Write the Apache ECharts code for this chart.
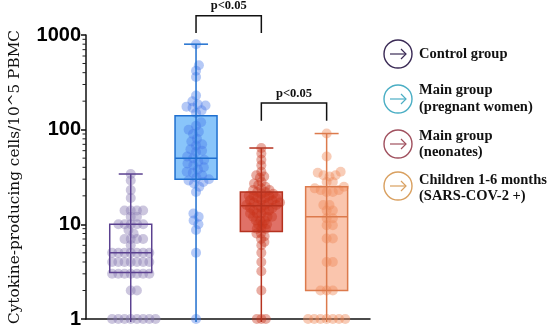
<!DOCTYPE html>
<html>
<head>
<meta charset="utf-8">
<script src="https://cdn.jsdelivr.net/npm/echarts@6/dist/echarts.min.js"></script>
<style>html,body{margin:0;padding:0;background:#fff}#c{width:550px;height:334px}</style>
</head>
<body>
<div id="c"></div>
<script>
// ---------- data ----------
const categories = ['Control group', 'Main group\n(pregnant women)', 'Main group\n(neonates)', 'Children 1-6 months\n(SARS-COV-2 +)'];
const boxMin = [1, 1, 1, 1];
const boxQ1 = [3.1, 30, 8.4, 2.0];
const boxMedian = [5, 50, 15.7, 12];
const boxQ3 = [10, 140, 22, 25];
const boxMax = [34, 800, 64, 91];

const controlValues = [1,1,1,1,1,1,1,1, 2,2, 3,3,3,3,3,3,3, 4,4,4,4,4,4,4, 5,5,5,5,5,5,5, 6, 7,7,7,7, 8.7,8, 10,10,10,10,10, 12,12, 14,14,14,14, 19, 23, 29, 34];
const pregnantValues = [800, 480, 420, 360, 230, 200, 185, 180, 175, 170, 160, 150, 120, 110, 100, 95, 90, 80, 75, 70, 68, 62, 60, 58, 52, 50, 48, 46, 44, 42, 40, 38, 36, 35, 33, 31, 30, 29, 28, 27, 25, 22, 13, 12, 11, 10, 8.7, 5, 1];
const neonateValues = [64, 56, 48, 42, 36, 33, 32, 31, 28, 27, 26, 25, 24, 23, 23, 22, 22, 21, 21, 20, 20, 20, 19, 19, 19, 18, 18, 18, 17, 17, 17, 16, 16, 16, 16, 15, 15, 15, 14, 14, 14, 13, 13, 13, 12, 12, 12, 11, 11, 11, 10, 10, 10, 9, 9, 9, 8, 8, 7.5, 7, 6.5, 6, 5, 4, 3.2, 2, 1, 1, 1];
const childrenValues = [91, 52, 36, 35, 33, 33, 32, 28, 28, 25, 24, 23, 23, 22, 22, 16, 16, 14, 14, 11.6, 11.6, 9.8, 9.8, 7.1, 7.1, 4, 4, 2, 2, 2, 1, 1, 1, 1, 1, 1, 1];
const groupValues = [controlValues, pregnantValues, neonateValues, childrenValues];

const yTicks = [1, 10, 100, 1000];
const minorTickValues = [2,3,4,5,6,7,8,9, 20,30,40,50,60,70,80,90, 200,300,400,500,600,700,800,900];

const pLabel = 'p<0.05';
const brackets = [ // [xFrom, xTo, yTop, yBottom]
  [1, 2, 1600, 1050],
  [2, 3, 191, 124]
];

// ---------- styles ----------
const X_MIN = -0.685, X_MAX = 3.664;
const PX_PER_X = 65.3, PX_PER_DEC = 94.7;
const swarmSpacing = [6.2, 6.2, 4.5, 6.2];
const strokeColors = ['#5b4190', '#1f6fcf', '#b5321f', '#dc7a4c'];
const fillColors = ['rgba(255,255,255,0)', 'rgba(40,150,245,0.55)', 'rgba(212,58,45,0.72)', 'rgba(245,150,105,0.55)'];
const dotColors = ['rgba(140,126,181,0.55)', 'rgba(70,120,232,0.5)', 'rgba(200,50,24,0.5)', 'rgba(240,138,90,0.55)'];
const legendColors = ['#3a2a55', '#4aaec4', '#a0505e', '#d9a060'];

// beeswarm layout (pixel based spacing)
function swarm(values, idx) {
  const D = swarmSpacing[idx];
  const sorted = values.slice().sort((a, b) => a - b);
  const placed = [];
  const out = [];
  sorted.forEach(v => {
    const py = Math.log10(v) * PX_PER_DEC;
    const near = placed.filter(p => Math.abs(p.y - py) < D);
    const cands = [0];
    near.forEach(p => {
      const dx = Math.sqrt(D * D - (p.y - py) * (p.y - py));
      cands.push(p.x + dx, p.x - dx);
    });
    cands.sort((a, b) => Math.abs(a) - Math.abs(b) || b - a);
    let chosen = 0;
    for (const c of cands) {
      if (near.every(p => (p.x - c) * (p.x - c) + (p.y - py) * (p.y - py) >= D * D - 0.01)) { chosen = c; break; }
    }
    placed.push({ x: chosen, y: py });
    out.push([idx + chosen / PX_PER_X, v]);
  });
  return out;
}

const boxData = categories.map((c, i) => [i, boxMin[i], boxQ1[i], boxMedian[i], boxQ3[i], boxMax[i]]);

const chart = echarts.init(document.getElementById('c'), null, { renderer: 'canvas' });

const series = [];
// box fills
series.push({
  type: 'custom', z: 1, clip: false,
  data: boxData,
  encode: { x: 0, y: [1, 2, 3, 4, 5] },
  renderItem: function (params, api) {
    const i = api.value(0);
    const q1 = api.coord([i, api.value(2)]);
    const q3 = api.coord([i, api.value(4)]);
    const hw = 21;
    return { type: 'rect', shape: { x: q1[0] - hw, y: q3[1], width: hw * 2, height: q1[1] - q3[1] }, style: { fill: fillColors[i] } };
  }
});
// dots
groupValues.forEach((vals, i) => {
  series.push({
    type: 'scatter', z: 2, symbol: 'circle', symbolSize: 10,
    data: swarm(vals, i),
    itemStyle: { color: dotColors[i] },
    silent: true
  });
});
// box strokes & whiskers
series.push({
  type: 'custom', z: 3, clip: false,
  data: boxData,
  encode: { x: 0, y: [1, 2, 3, 4, 5] },
  renderItem: function (params, api) {
    const i = api.value(0);
    const mn = api.coord([i, api.value(1)]);
    const q1 = api.coord([i, api.value(2)]);
    const md = api.coord([i, api.value(3)]);
    const q3 = api.coord([i, api.value(4)]);
    const mx = api.coord([i, api.value(5)]);
    const hw = 21, cw = 12;
    const st = { stroke: strokeColors[i], lineWidth: 1.5, fill: null };
    return {
      type: 'group', children: [
        { type: 'rect', shape: { x: q1[0] - hw, y: q3[1], width: hw * 2, height: q1[1] - q3[1] }, style: st },
        { type: 'line', shape: { x1: q1[0] - hw, y1: md[1], x2: q1[0] + hw, y2: md[1] }, style: st },
        { type: 'line', shape: { x1: mn[0], y1: mn[1] + 3, x2: mx[0], y2: mx[1] }, style: st },
        { type: 'line', shape: { x1: mx[0] - cw, y1: mx[1], x2: mx[0] + cw, y2: mx[1] }, style: st }
      ]
    };
  }
});
// minor ticks on y axis
series.push({
  type: 'custom', z: 4, clip: false,
  data: minorTickValues.map(v => [X_MIN, v]),
  renderItem: function (params, api) {
    const p = api.coord([api.value(0), api.value(1)]);
    return { type: 'line', shape: { x1: p[0] - 3.5, y1: p[1], x2: p[0], y2: p[1] }, style: { stroke: '#222', lineWidth: 1 } };
  }
});
// significance brackets
series.push({
  type: 'custom', z: 5, clip: false,
  data: brackets,
  renderItem: function (params, api) {
    const a = api.coord([api.value(0), api.value(2)]);
    const b = api.coord([api.value(1), api.value(2)]);
    const ab = api.coord([api.value(0), api.value(3)]);
    const st = { stroke: '#111', lineWidth: 1.5, fill: null };
    return {
      type: 'group', children: [
        { type: 'polyline', shape: { points: [[a[0], ab[1]], [a[0], a[1]], [b[0], b[1]], [b[0], ab[1]]] }, style: st },
        { type: 'text', style: { text: pLabel, x: (a[0] + b[0]) / 2, y: a[1] - 3, align: 'center', verticalAlign: 'bottom', font: 'bold 12.5px "Liberation Serif"', fill: '#111' } }
      ]
    };
  }
});

// legend built as graphics
const legendLayout = [
  { cy: 54, lines: [54] },
  { cy: 99, lines: [90, 107] },
  { cy: 144, lines: [136, 152] },
  { cy: 186, lines: [180, 196] }
];
const graphics = [];
categories.forEach((c, i) => {
  const L = legendLayout[i];
  const cx = 398, cy = L.cy, col = legendColors[i];
  graphics.push({ type: 'circle', shape: { cx: cx, cy: cy, r: 14 }, style: { fill: '#fff', stroke: col, lineWidth: 1.4 } });
  graphics.push({ type: 'polyline', shape: { points: [[cx - 8, cy], [cx + 8, cy]] }, style: { stroke: col, lineWidth: 1.2, fill: null } });
  graphics.push({ type: 'polyline', shape: { points: [[cx + 3, cy - 5], [cx + 8, cy], [cx + 3, cy + 5]] }, style: { stroke: col, lineWidth: 1.2, fill: null } });
  c.split('\n').forEach((line, k) => {
    graphics.push({ type: 'text', style: { text: line, x: 419, y: L.lines[k], align: 'left', verticalAlign: 'middle', font: 'bold 14.5px "Liberation Serif"', fill: '#111' } });
  });
});

chart.setOption({
  animation: false,
  backgroundColor: '#fff',
  grid: { left: 86, right: 180, top: 35, bottom: 15, containLabel: false },
  xAxis: {
    type: 'value', min: X_MIN, max: X_MAX,
    axisLine: { show: true, onZero: false, lineStyle: { color: '#111', width: 1.5 } },
    axisTick: { show: false }, axisLabel: { show: false }, splitLine: { show: false }
  },
  yAxis: {
    type: 'log', logBase: 10, min: yTicks[0], max: yTicks[yTicks.length - 1],
    name: 'Cytokine-producing cells/10^5 PBMC',
    nameLocation: 'middle', nameGap: 63,
    nameTextStyle: { fontFamily: 'DejaVu Serif', fontSize: 15.3, color: '#111' },
    axisLine: { show: true, onZero: false, lineStyle: { color: '#111', width: 1.5 } },
    axisTick: { show: true, length: 5, lineStyle: { color: '#111', width: 1.5 } },
    axisLabel: { color: '#000', fontWeight: 'bold', fontSize: 20, fontFamily: 'Liberation Sans', margin: 5,
      formatter: function (v) { return String(Math.round(v)); } },
    splitLine: { show: false }
  },
  series: series,
  graphic: graphics
});
</script>
</body>
</html>
